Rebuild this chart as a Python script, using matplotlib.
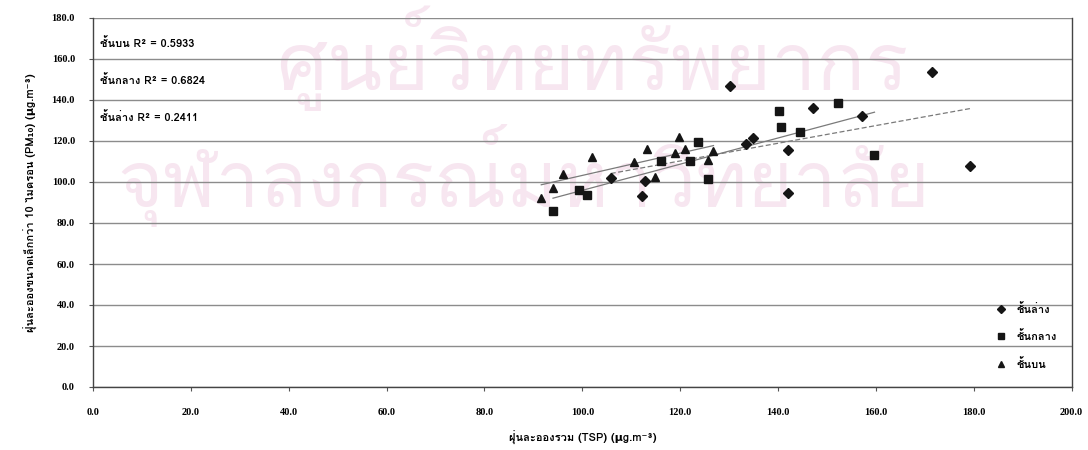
import numpy as np
import matplotlib
matplotlib.use("Agg")
import matplotlib.pyplot as plt
from matplotlib import font_manager
from matplotlib.ft2font import FT2Font


def find_thai_font():
    # none of the named families is sure to carry Thai, so look for one
    for entry in font_manager.fontManager.ttflist:
        try:
            if 0x0E0A in FT2Font(entry.fname).get_charmap():
                return entry.name
        except Exception:
            continue
    return "DejaVu Sans"


THAI = find_thai_font()

# lower floor (diamonds)
lower_x = [130.2, 134.9, 133.5, 105.8, 112.9, 112.2, 142.1, 142.0, 147.1, 157.2, 179.2, 171.4]
lower_y = [146.7, 121.3, 118.5, 101.8, 100.6, 93.0, 115.8, 94.5, 135.9, 132.3, 107.6, 153.8]
# middle floor (squares)
middle_x = [140.2, 140.5, 123.7, 144.4, 116.0, 121.9, 125.6, 99.4, 100.9, 94.0, 152.3, 159.7]
middle_y = [134.8, 126.9, 119.4, 124.3, 110.1, 110.4, 101.5, 96.1, 93.8, 85.7, 138.4, 113.2]
# upper floor (triangles)
upper_x = [119.7, 113.2, 121.0, 126.8, 102.0, 119.0, 110.5, 125.6, 96.0, 114.9, 94.0, 91.6]
upper_y = [121.8, 116.1, 116.1, 115.3, 112.0, 114.1, 109.9, 110.9, 103.9, 102.3, 96.9, 92.2]

labels = ["ชั้นล่าง", "ชั้นกลาง", "ชั้นบน"]
r2_text = ["ชั้นบน R² = 0.5933", "ชั้นกลาง R² = 0.6824", "ชั้นล่าง R² = 0.2411"]
xticks = np.arange(0, 201, 20)
yticks = np.arange(0, 181, 20)

fam = [THAI, "DejaVu Sans"]
plt.rcParams["font.family"] = fam

fig = plt.figure(figsize=(10.88, 4.5), dpi=100)
ax = fig.add_axes([0.0855, 0.14, 0.8995, 0.82])

# faint watermark of the scanned page
wm = dict(color="#f7e6f0", ha="center", va="center", transform=ax.transAxes, zorder=0)
ax.text(0.51, 0.89, "ศูนย์วิทยทรัพยากร", fontsize=58, **wm)
ax.text(0.44, 0.572, "จุฬาลงกรณ์มหาวิทยาลัย", fontsize=56, **wm)

for yv in yticks:
    ax.axhline(yv, color="#8c8c8c", lw=1.0, zorder=1)

series = [
    (lower_x, lower_y, "D", 5.5, (0, (4, 2))),
    (middle_x, middle_y, "s", 6, "-"),
    (upper_x, upper_y, "^", 6, "-"),
]
for (xs, ys, mk, ms, ls), lab in zip(series, labels):
    xs = np.asarray(xs)
    ys = np.asarray(ys)
    ax.plot(xs, ys, ls="none", marker=mk, ms=ms, color="#151515", label=lab, zorder=3)
    k, b = np.polyfit(xs, ys, 1)
    xl = np.array([xs.min(), xs.max()])
    ax.plot(xl, k * xl + b, color="#7a7a7a", lw=0.9, ls=ls, zorder=2)

for txt, yv in zip(r2_text, [168, 149.5, 131.5]):
    ax.text(1.5, yv, txt, fontsize=8, fontweight="bold", va="center", zorder=4)

ax.set_xlim(0, 200)
ax.set_ylim(0, 180)
ax.set_xticks(xticks)
ax.set_yticks(yticks)
ax.set_xticklabels([f"{v:.1f}" for v in xticks], fontsize=7.5, fontweight="bold",
                   family=["Liberation Serif"])
ax.set_yticklabels([f"{v:.1f}" for v in yticks], fontsize=7.5, fontweight="bold",
                   family=["Liberation Serif"])
ax.tick_params(length=3, pad=12, color="#555555")
ax.tick_params(axis="y", pad=10)
for sp in ax.spines.values():
    sp.set_color("#444444")
    sp.set_linewidth(1.0)
ax.spines["top"].set_visible(False)

ax.set_xlabel("ฝุ่นละอองรวม (TSP) (μg.m⁻³)", fontsize=8, fontweight="bold", labelpad=10)
ax.set_ylabel("ฝุ่นละอองขนาดเล็กกว่า 10 ไมครอน (PM₁₀) (μg.m⁻³)", fontsize=8,
              fontweight="bold", labelpad=10)

ax.legend(loc="lower right", bbox_to_anchor=(0.995, 0.02), frameon=False,
          labelspacing=1.4, handletextpad=0.4, markerscale=0.8,
          prop={"weight": "bold", "size": 8})

fig.savefig("out.png", dpi=100, facecolor="white")
